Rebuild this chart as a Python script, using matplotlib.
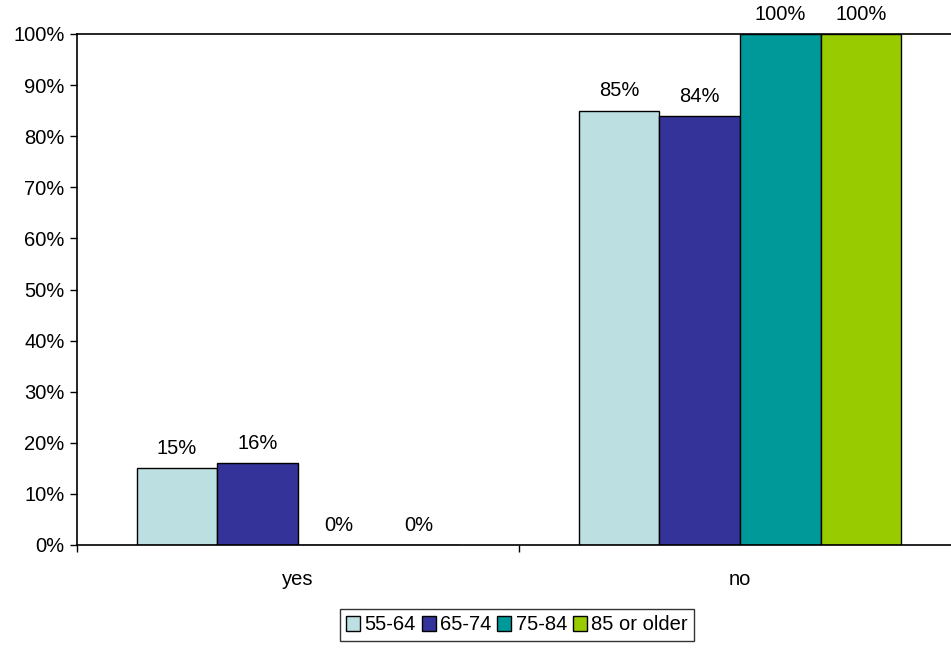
import matplotlib

matplotlib.use("Agg")
import matplotlib.pyplot as plt
import numpy as np

categories = ["yes", "no"]
series = ["55-64", "65-74", "75-84", "85 or older"]
values = [
    [15, 85],
    [16, 84],
    [0, 100],
    [0, 100],
]
colors = ["#bce0e2", "#333399", "#009999", "#99cc00"]

plt.rcParams["font.family"] = ["Liberation Sans", "DejaVu Sans"]
FS = 14.5

fig = plt.figure(figsize=(9.51, 6.48), dpi=100)
ax = fig.add_axes([77 / 951, 1 - 545 / 648, 884 / 951, 511 / 648])

x = np.arange(len(categories))
w = 0.1825
for i, (name, vals) in enumerate(zip(series, values)):
    pos = x + (i - 1.5) * w
    ax.bar(pos, vals, width=w, color=colors[i], edgecolor="black", linewidth=1, label=name)
    for p, v in zip(pos, vals):
        ax.text(p, v + 2, f"{v}%", ha="center", va="bottom", fontsize=FS)

ax.set_xlim(-0.5, 1.5)
ax.set_ylim(0, 100)
ax.set_yticks(range(0, 101, 10))
ax.set_yticklabels([f"{t}%" for t in range(0, 101, 10)], fontsize=FS)
ax.set_xticks([-0.5, 0.5, 1.5])
ax.set_xticklabels([])
ax.set_xticks(x, minor=True)
ax.set_xticklabels(categories, minor=True, fontsize=FS)
ax.tick_params(axis="x", which="minor", length=0, pad=18)
ax.tick_params(axis="x", which="major", length=5, width=1, direction="out")
ax.tick_params(axis="y", length=5, width=1, direction="out", pad=4)
ax.spines["right"].set_visible(False)
for s in ["left", "bottom", "top"]:
    ax.spines[s].set_linewidth(1.2)

leg = fig.legend(loc="center", bbox_to_anchor=(517 / 951, 1 - 625 / 648), ncol=4,
                 fontsize=FS, frameon=True, fancybox=False, edgecolor="black",
                 handlelength=0.7, handleheight=0.7, handletextpad=0.2,
                 columnspacing=0.3, borderpad=0.3)
leg.get_frame().set_linewidth(1)

fig.savefig("out.png", dpi=100)
